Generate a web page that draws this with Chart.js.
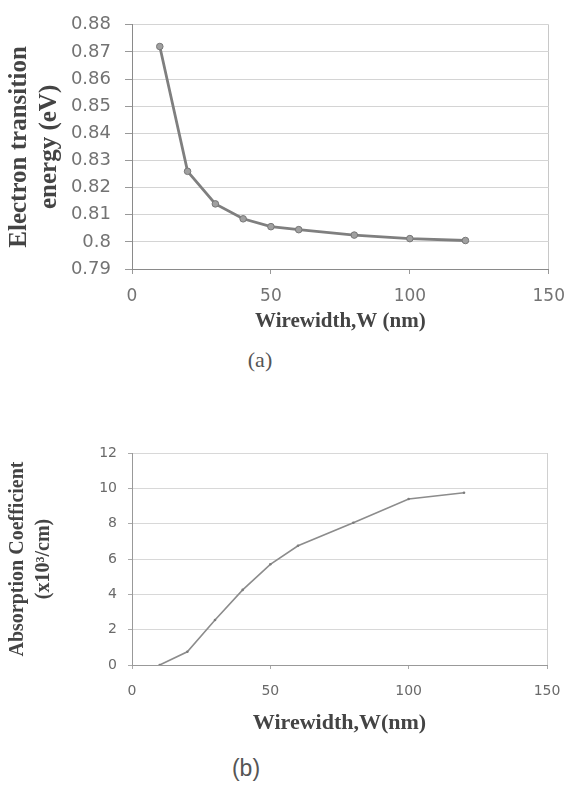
<!DOCTYPE html>
<html>
<head>
<meta charset="utf-8">
<title>Wirewidth plots</title>
<script src="https://cdn.jsdelivr.net/npm/chart.js@4.4.1/dist/chart.umd.min.js"></script>
<style>
    body { margin: 0; background: #ffffff; }
    .box { position: absolute; left: 0; width: 577px; }
    .caption { position: absolute; color: #555; line-height: 1; transform: translate(-50%, -50%); }
</style>
</head>
<body>
<div class="box" style="top: 0; height: 345px;"><canvas id="energyChart"></canvas></div>
<div class="caption" style="left: 260px; top: 360px; font-size: 22px; font-family: 'Liberation Serif', serif;">(a)</div>
<div class="box" style="top: 420px; height: 330px;"><canvas id="absorptionChart"></canvas></div>
<div class="caption" style="left: 246px; top: 768px; font-size: 23px; font-family: 'Liberation Sans', sans-serif;">(b)</div>
<script>
    // wirewidth (nm) used by both plots
    const wireWidths = [10, 20, 30, 40, 50, 60, 80, 100, 120];
    // (a) electron transition energy, eV
    const transitionEnergy = [0.872, 0.826, 0.814, 0.8085, 0.8056, 0.8045, 0.8025, 0.8012, 0.8005];
    // (b) absorption coefficient, x10^3 /cm
    const absorptionCoeff = [0, 0.75, 2.55, 4.25, 5.7, 6.75, 8.05, 9.4, 9.75];

    const xTicks = [0, 50, 100, 150];
    const yRangeA = [0.79, 0.88];
    const yRangeB = [0, 12];

    function toPoints(xs, ys) {
        return xs.map((x, i) => ({ x: x, y: ys[i] }));
    }

    // only the last x grid line is drawn, it closes the plot box on the right
    function rightBorderOnly(color) {
        return (ctx) => (ctx.tick && ctx.tick.value === 150 ? color : "transparent");
    }

    new Chart(document.getElementById("energyChart"), {
        type: "line",
        data: {
            datasets: [{
                data: toPoints(wireWidths, transitionEnergy),
                borderColor: "#7f7f7f",
                borderWidth: 2.8,
                backgroundColor: "#a0a0a0",
                pointBorderColor: "#777",
                pointRadius: 3.3,
                pointBorderWidth: 1,
                tension: 0,
            }],
        },
        options: {
            responsive: true,
            maintainAspectRatio: false,
            animation: false,
            layout: { padding: { top: 20, right: 19, left: 0, bottom: 0 } },
            plugins: { legend: { display: false }, tooltip: { enabled: false } },
            scales: {
                x: {
                    type: "linear",
                    min: 0,
                    max: 150,
                    afterBuildTicks: (scale) => { scale.ticks = xTicks.map((v) => ({ value: v })); },
                    afterFit: (scale) => { scale.height = 76; },
                    grid: { color: rightBorderOnly("#c8c8c8"), tickColor: "#999", tickLength: 5 },
                    border: { color: "#8a8a8a" },
                    ticks: { padding: 12, color: "#737373", font: { family: "DejaVu Sans", size: 17 } },
                    title: {
                        display: true,
                        text: "Wirewidth,W (nm)",
                        color: "#444",
                        padding: { top: 0, bottom: 11 },
                        font: { family: "Liberation Serif", size: 21, weight: "bold" },
                    },
                },
                y: {
                    min: yRangeA[0],
                    max: yRangeA[1],
                    afterFit: (scale) => { scale.width = 132; },
                    grid: { color: "#d4d4d4", tickColor: "#999", tickLength: 7 },
                    border: { color: "#8a8a8a" },
                    ticks: {
                        stepSize: 0.01,
                        padding: 14,
                        color: "#737373",
                        font: { family: "DejaVu Sans", size: 18 },
                        callback: (v) => String(+v.toFixed(2)),
                    },
                    title: {
                        display: true,
                        text: ["Electron transition", "energy (eV)"],
                        color: "#444",
                        padding: { top: 5, bottom: 0 },
                        font: { family: "Liberation Serif", size: 25, weight: "bold", lineHeight: 1.2 },
                    },
                },
            },
        },
    });

    new Chart(document.getElementById("absorptionChart"), {
        type: "line",
        data: {
            datasets: [{
                data: toPoints(wireWidths, absorptionCoeff),
                borderColor: "#8c8c8c",
                borderWidth: 1.6,
                backgroundColor: "#7d7d7d",
                pointBorderColor: "#7d7d7d",
                pointRadius: 1.3,
                pointBorderWidth: 0,
                tension: 0,
            }],
        },
        options: {
            responsive: true,
            maintainAspectRatio: false,
            animation: false,
            layout: { padding: { top: 33, right: 30, left: 0, bottom: 0 } },
            plugins: { legend: { display: false }, tooltip: { enabled: false } },
            scales: {
                x: {
                    type: "linear",
                    min: 0,
                    max: 150,
                    afterBuildTicks: (scale) => { scale.ticks = xTicks.map((v) => ({ value: v })); },
                    afterFit: (scale) => { scale.height = 85; },
                    grid: { color: rightBorderOnly("#d0d0d0"), tickColor: "#aaa", tickLength: 4 },
                    border: { color: "#999" },
                    ticks: { padding: 14, color: "#6a6a6a", font: { family: "DejaVu Sans", size: 14 } },
                    title: {
                        display: true,
                        text: "Wirewidth,W(nm)",
                        color: "#444",
                        padding: { top: 0, bottom: 13 },
                        font: { family: "Liberation Serif", size: 22, weight: "bold" },
                    },
                },
                y: {
                    min: yRangeB[0],
                    max: yRangeB[1],
                    afterFit: (scale) => { scale.width = 132; },
                    grid: { color: "#d8d8d8", tickColor: "#aaa", tickLength: 4 },
                    border: { color: "#999" },
                    ticks: { stepSize: 2, padding: 11, color: "#6a6a6a", font: { family: "DejaVu Sans", size: 14 } },
                    title: {
                        display: true,
                        text: ["Absorption Coefficient", "(x10³/cm)"],
                        color: "#444",
                        padding: { top: 5, bottom: 0 },
                        font: { family: "Liberation Serif", size: 20, weight: "bold", lineHeight: 1.3 },
                    },
                },
            },
        },
    });
</script>
</body>
</html>
